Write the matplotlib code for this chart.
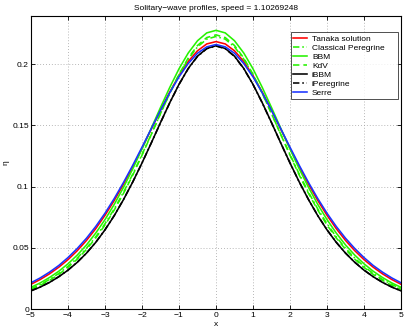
import numpy as np
import matplotlib
matplotlib.use("Agg")
import matplotlib.pyplot as plt

plt.rcParams['font.family'] = ['Liberation Sans', 'DejaVu Sans']

# half profiles for x = 0, 0.25, ..., 5 (profiles are symmetric about x = 0)
x_half = [0.0, 0.25, 0.5, 0.75, 1.0, 1.25, 1.5, 1.75, 2.0, 2.25, 2.5, 2.75,
          3.0, 3.25, 3.5, 3.75, 4.0, 4.25, 4.5, 4.75, 5.0]
tanaka = [0.2183, 0.2164, 0.2108, 0.2021, 0.1906, 0.1771, 0.1623, 0.1468, 0.1312, 0.1161, 0.1018,
          0.0886, 0.0765, 0.0656, 0.0560, 0.0476, 0.0403, 0.0341, 0.0287, 0.0241, 0.0202]
peregrine = [0.2225, 0.2203, 0.2140, 0.2040, 0.1911, 0.1760, 0.1596, 0.1427, 0.1261, 0.1101, 0.0953,
             0.0817, 0.0696, 0.0589, 0.0496, 0.0416, 0.0348, 0.0290, 0.0241, 0.0200, 0.0165]
bbm = [0.2275, 0.2254, 0.2190, 0.2090, 0.1961, 0.1809, 0.1645, 0.1475, 0.1306, 0.1144, 0.0993,
       0.0854, 0.0730, 0.0620, 0.0523, 0.0440, 0.0369, 0.0308, 0.0257, 0.0213, 0.0177]
kdv = [0.2238, 0.2216, 0.2151, 0.2049, 0.1916, 0.1762, 0.1595, 0.1424, 0.1255, 0.1093, 0.0944,
       0.0808, 0.0686, 0.0580, 0.0487, 0.0407, 0.0340, 0.0282, 0.0234, 0.0193, 0.0160]
ibbm = [0.2149, 0.2127, 0.2064, 0.1964, 0.1834, 0.1684, 0.1522, 0.1355, 0.1192, 0.1037, 0.0893,
        0.0762, 0.0646, 0.0544, 0.0456, 0.0381, 0.0317, 0.0263, 0.0217, 0.0179, 0.0148]
iperegrine = [0.2147, 0.2125, 0.2062, 0.1962, 0.1833, 0.1683, 0.1521, 0.1355, 0.1192, 0.1037, 0.0894,
              0.0763, 0.0647, 0.0545, 0.0457, 0.0382, 0.0318, 0.0264, 0.0218, 0.0180, 0.0149]
serre = [0.2159, 0.2140, 0.2088, 0.2004, 0.1895, 0.1765, 0.1622, 0.1472, 0.1321, 0.1173, 0.1033,
         0.0902, 0.0782, 0.0674, 0.0578, 0.0494, 0.0420, 0.0355, 0.0301, 0.0254, 0.0214]

labels = ["Tanaka solution", "Classical Peregrine", "BBM", "KdV", "iBBM", "iPeregrine", "Serre"]
xticks = [-5, -4, -3, -2, -1, 0, 1, 2, 3, 4, 5]
yticks = [0, 0.05, 0.1, 0.15, 0.2]
yticklabels = ["0", "0.05", "0.1", "0.15", "0.2"]


def full(h):
    h = np.asarray(h)
    return np.concatenate([h[::-1], h[1:]])


xh = np.asarray(x_half)
x = np.concatenate([-xh[::-1], xh[1:]])

fig = plt.figure(figsize=(4.07, 3.32), dpi=100)
ax = fig.add_axes([31 / 407, 23 / 332, 370 / 407, 293 / 332])

fs = 6.0
lw = 1.15
green = (0.15, 0.95, 0.0)
dashdot = (0, (4, 1.8, 1, 1.8))
ax.plot(x, full(tanaka), color=(1, 0, 0), lw=lw, label=labels[0])
ax.plot(x, full(peregrine), color=green, lw=lw, ls=dashdot, label=labels[1])
ax.plot(x, full(bbm), color=green, lw=lw, label=labels[2])
ax.plot(x, full(kdv), color=green, lw=lw, ls=(0, (4, 2.5)), label=labels[3])
ax.plot(x, full(ibbm), color='black', lw=lw, label=labels[4])
ax.plot(x, full(iperegrine), color='black', lw=lw, ls=dashdot, label=labels[5])
ax.plot(x, full(serre), color=(0.1, 0.2, 1), lw=lw, label=labels[6])

ax.set_xlim(-5, 5)
ax.set_ylim(0, 0.2392)
ax.set_xticks(xticks)
ax.set_yticks(yticks)
ax.set_yticklabels(yticklabels)
ax.tick_params(direction='in', length=3, width=0.6, top=True, right=True,
               labelsize=6.1)
ax.tick_params(axis='y', pad=1.5)
ax.tick_params(axis='x', pad=2.5)
ax.grid(True, ls=(0, (1, 2.5)), color='#a0a0a0', lw=0.6)
for s in ax.spines.values():
    s.set_linewidth(0.8)

ax.set_title("Solitary\u2212wave profiles, speed = 1.10269248", fontsize=fs, pad=4)
ax.set_xlabel("x", fontsize=fs, labelpad=1)
ax.set_ylabel("\u03b7", fontsize=fs)
ax.yaxis.set_label_coords(-0.058, 0.5)

leg = ax.legend(loc='upper left', bbox_to_anchor=(0.702, 0.7133, 0.2907, 0.2311),
                mode='expand', fontsize=fs, handlelength=1.7, handletextpad=0.55,
                labelspacing=0.14, borderpad=0.3, borderaxespad=0.0, frameon=True,
                fancybox=False, edgecolor='black')
leg.get_frame().set_linewidth(0.6)

fig.savefig("out.png", dpi=100)
